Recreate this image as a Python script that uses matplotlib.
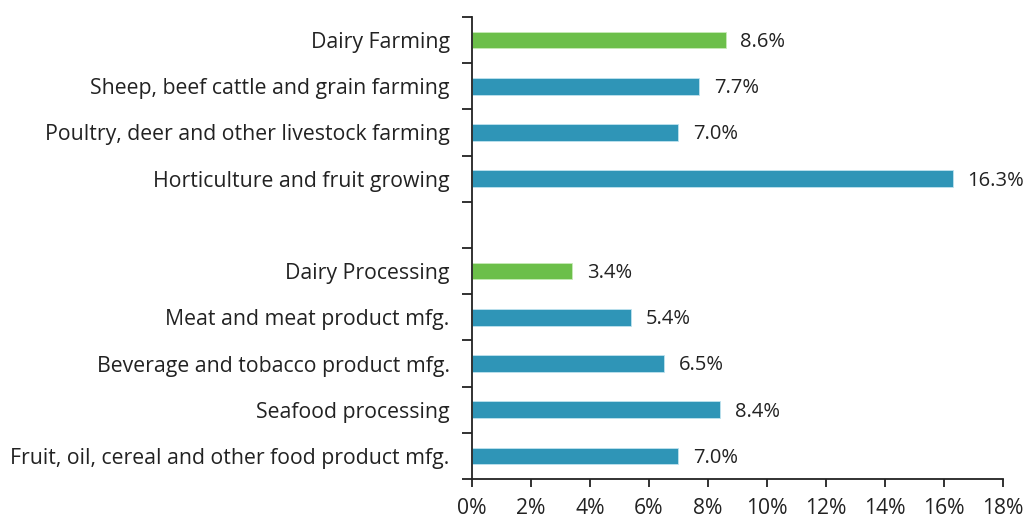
import matplotlib.pyplot as plt
from matplotlib.ticker import FixedLocator

plt.rcParams["font.family"] = ["Open Sans", "DejaVu Sans"]

labels = [
    "Dairy Farming",
    "Sheep, beef cattle and grain farming",
    "Poultry, deer and other livestock farming",
    "Horticulture and fruit growing",
    "",
    "Dairy Processing",
    "Meat and meat product mfg.",
    "Beverage and tobacco product mfg.",
    "Seafood processing",
    "Fruit, oil, cereal and other food product mfg.",
]
values = [8.6, 7.7, 7.0, 16.3, None, 3.4, 5.4, 6.5, 8.4, 7.0]
is_dairy = [True, False, False, False, False, True, False, False, False, False]

green = "#6cbf4a"
blue = "#2f95b7"
text_col = "#222222"

fig = plt.figure(figsize=(10.26, 5.21), dpi=100)
ax = fig.add_axes([0.46, 0.0806, 0.5176, 0.8868])

ypos = list(range(len(labels)))
for y, v, d in zip(ypos, values, is_dairy):
    if v is None:
        continue
    ax.barh(y, v, height=0.36, color=green if d else blue,
            edgecolor="#bfe3ef" if not d else "#c8ebb8", linewidth=0.6)
    ax.text(v + 0.5, y + 0.04, f"{v:.1f}%", va="center", ha="left",
            fontsize=14.5, color=text_col)

ax.set_ylim(len(labels) - 0.5, -0.5)
ax.set_xlim(0, 18)

ax.set_yticks(ypos)
ax.set_yticklabels(labels, fontsize=15.3, color=text_col)
ax.tick_params(axis="y", which="major", length=0, pad=16)
ax.yaxis.set_minor_locator(FixedLocator([y - 0.5 for y in range(len(labels) + 1)]))
ax.tick_params(axis="y", which="minor", length=7, width=1.3, color="#222222", direction="out")

ax.set_xticks(range(0, 19, 2))
ax.set_xticklabels([f"{x}%" for x in range(0, 19, 2)], fontsize=15.2, color=text_col)
ax.tick_params(axis="x", length=6, width=1.3, color="#222222", pad=8)

for s in ["top", "right"]:
    ax.spines[s].set_visible(False)
for s in ["left", "bottom"]:
    ax.spines[s].set_linewidth(1.3)
    ax.spines[s].set_color("#222222")

fig.savefig("out.png", dpi=100)
